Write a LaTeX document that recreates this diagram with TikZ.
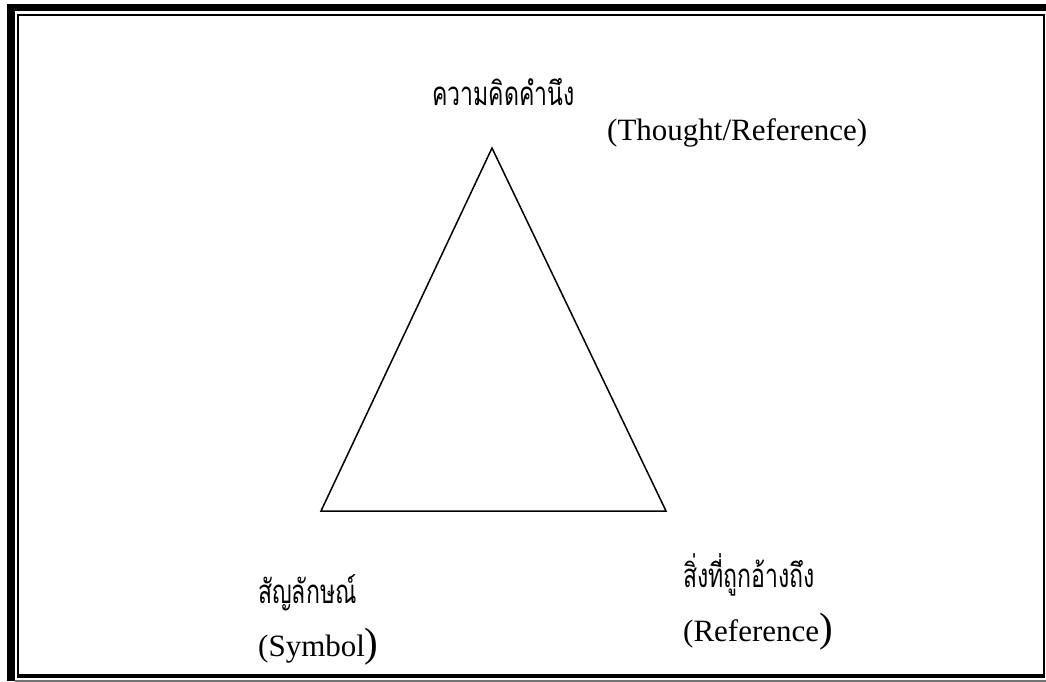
\documentclass[tikz,border=0pt]{standalone}
\usepackage{fontspec}
\setmainfont{Liberation Serif}
\newfontfamily\thaifont[Script=Thai,FakeStretch=0.7]{Loma}
\tikzset{
  lbl/.style={inner sep=0pt, anchor=west, font=\fontsize{31}{35}\selectfont},
  thai/.style={inner sep=0pt, anchor=west, font=\thaifont\fontsize{33}{38}\selectfont},
  tri/.style={line width=1.5pt, line join=miter}
}
\newcommand{\bigparen}{{\fontsize{41}{41}\selectfont )}}
\begin{document}
\begin{tikzpicture}[x=1pt,y=-1pt]
\useasboundingbox (0,0) rectangle (1046,682);
% frame
\fill[black] (7,4) rectangle (1046,11);
\fill[black] (7,4) rectangle (15,681);
\draw[line width=2pt] (18,675.5) -- (18,15) -- (1044,15) -- (1044,675.5);
\fill[black] (17,674) rectangle (1045,677.5);
\fill[black!55] (15,680) rectangle (1046,682);
% triangle
\coordinate (top) at (492,148);
\coordinate (bl) at (321,511);
\coordinate (br) at (666,511);
\draw[tri] (top) -- (bl) -- (br) -- cycle;
% labels
\node[thai] (thoughtTh) at (432,92) {ความคิดคำนึง};
\node[lbl] (thoughtEn) at (607,133) {(Thought/Reference)};
\node[thai] (symTh) at (258,593) {สัญลักษณ์};
\node[lbl] (symEn) at (258,647) {(Symbol\bigparen};
\node[thai] (refTh) at (683,575) {สิ่งที่ถูกอ้างถึง};
\node[lbl] (refEn) at (683,632) {(Reference\bigparen};
\end{tikzpicture}
\end{document}
